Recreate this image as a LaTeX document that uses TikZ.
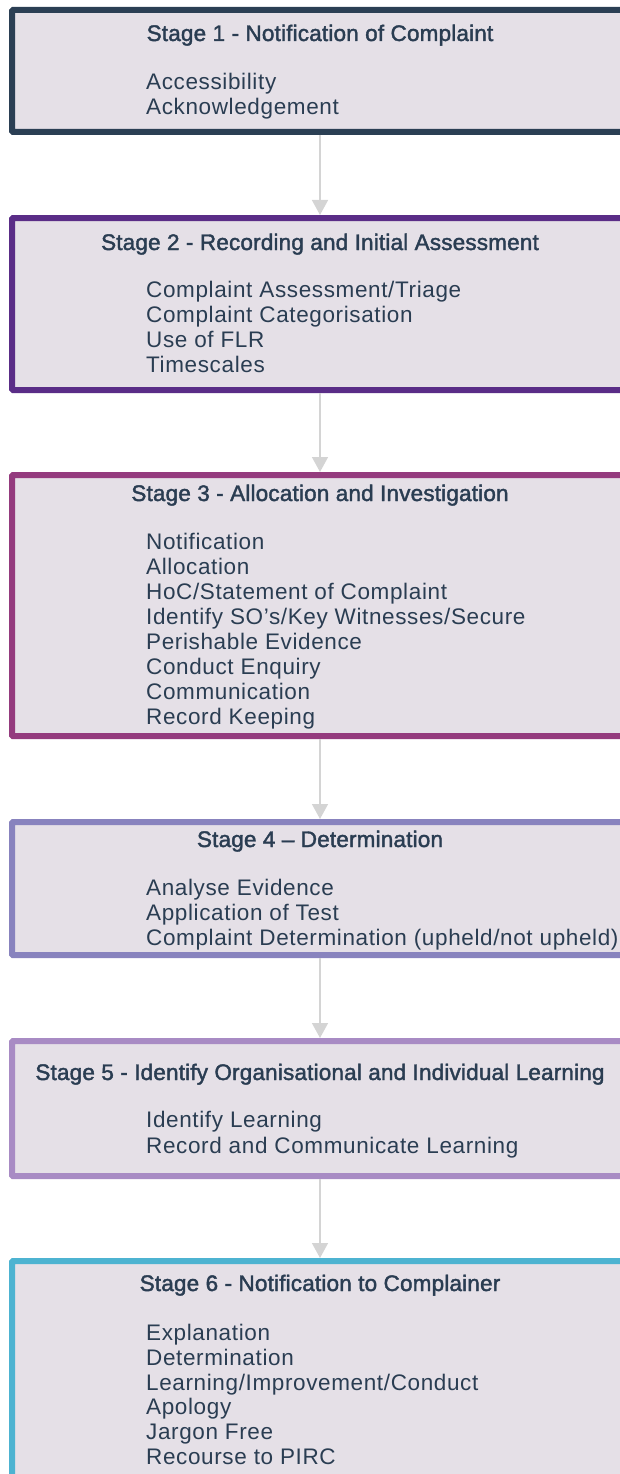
\documentclass[tikz,border=0pt]{standalone}
\usepackage{fontspec}
\usepackage{tikz}
\usetikzlibrary{arrows.meta}

\newfontfamily\itemfont[LetterSpace=2.8]{Liberation Sans}
\newfontfamily\titlefont[LetterSpace=0.8,FakeBold=1.8]{Liberation Sans}

\definecolor{textnavy}{HTML}{2A3D52}
\definecolor{boxfill}{HTML}{E5E0E7}
\definecolor{arrowgray}{HTML}{D4D4D4}
\definecolor{stageone}{HTML}{2B3F54}
\definecolor{stagetwo}{HTML}{5A2D87}
\definecolor{stagethree}{HTML}{943B7E}
\definecolor{stagefour}{HTML}{8883BE}
\definecolor{stagefive}{HTML}{A88BC4}
\definecolor{stagesix}{HTML}{4DB3D1}

\tikzset{
  stagebox/.style={draw=#1, fill=boxfill, line width=6pt, minimum width=616pt, rounded corners=1pt},
  stagetitle/.style={anchor=base, inner sep=0pt, text=textnavy, font=\titlefont\fontsize{22.5pt}{25pt}\selectfont},
  stageitem/.style={anchor=base west, inner sep=0pt, text=textnavy, font=\itemfont\fontsize{22.5pt}{25pt}\selectfont},
  flow/.style={draw=arrowgray, line width=1.5pt, -{Triangle[width=16pt,length=15pt]}}
}

\begin{document}
\begin{tikzpicture}[x=1pt, y=-1pt]
        \useasboundingbox (0,0) rectangle (620,1474);
        \clip (0,0) rectangle (620,1474);
        % Khung các giai đoạn
        \node[stagebox=stageone, minimum height=122pt] (s1) at (320,71) {};
        \node[stagebox=stagetwo, minimum height=172pt] (s2) at (320,304) {};
        \node[stagebox=stagethree, minimum height=261pt] (s3) at (320,605.5) {};
        \node[stagebox=stagefour, minimum height=133pt] (s4) at (320,888.5) {};
        \node[stagebox=stagefive, minimum height=135pt] (s5) at (320,1108.5) {};
        \node[stagebox=stagesix, minimum height=259pt] (s6) at (320,1390.5) {};
        % Mũi tên nối
        \draw[flow] (s1.south) -- (s2.north);
        \draw[flow] (s2.south) -- (s3.north);
        \draw[flow] (s3.south) -- (s4.north);
        \draw[flow] (s4.south) -- (s5.north);
        \draw[flow] (s5.south) -- (s6.north);
        % Giai đoạn 1
        \node[stagetitle] (t1) at (320,41) {Stage 1 - Notification of Complaint};
        \node[stageitem] (s1a) at (146,90) {Accessibility};
        \node[stageitem] (s1b) at (146,115) {Acknowledgement};
        % Giai đoạn 2
        \node[stagetitle] (t2) at (320,250) {Stage 2 - Recording and Initial Assessment};
        \node[stageitem] (s2a) at (146,297) {Complaint Assessment/Triage};
        \node[stageitem] (s2b) at (146,322) {Complaint Categorisation};
        \node[stageitem] (s2c) at (146,347) {Use of FLR};
        \node[stageitem] (s2d) at (146,372) {Timescales};
        % Giai đoạn 3
        \node[stagetitle] (t3) at (320,501) {Stage 3 - Allocation and Investigation};
        \node[stageitem] (s3a) at (146,549) {Notification};
        \node[stageitem] (s3b) at (146,574) {Allocation};
        \node[stageitem] (s3c) at (146,599) {HoC/Statement of Complaint};
        \node[stageitem] (s3d) at (146,624) {Identify SO’s/Key Witnesses/Secure};
        \node[stageitem] (s3e) at (146,649) {Perishable Evidence};
        \node[stageitem] (s3f) at (146,674) {Conduct Enquiry};
        \node[stageitem] (s3g) at (146,699) {Communication};
        \node[stageitem] (s3h) at (146,724) {Record Keeping};
        % Giai đoạn 4
        \node[stagetitle] (t4) at (320,847) {Stage 4 – Determination};
        \node[stageitem] (s4a) at (146,895) {Analyse Evidence};
        \node[stageitem] (s4b) at (146,920) {Application of Test};
        \node[stageitem] (s4c) at (146,945) {Complaint Determination (upheld/not upheld)};
        % Giai đoạn 5
        \node[stagetitle] (t5) at (320,1080) {Stage 5 - Identify Organisational and Individual Learning};
        \node[stageitem] (s5a) at (146,1127) {Identify Learning};
        \node[stageitem] (s5b) at (146,1153) {Record and Communicate Learning};
        % Giai đoạn 6
        \node[stagetitle] (t6) at (320,1291) {Stage 6 - Notification to Complainer};
        \node[stageitem] (s6a) at (146,1340) {Explanation};
        \node[stageitem] (s6b) at (146,1365) {Determination};
        \node[stageitem] (s6c) at (146,1390) {Learning/Improvement/Conduct};
        \node[stageitem] (s6d) at (146,1414) {Apology};
        \node[stageitem] (s6e) at (146,1439) {Jargon Free};
        \node[stageitem] (s6f) at (146,1464) {Recourse to PIRC};
\end{tikzpicture}
\end{document}
